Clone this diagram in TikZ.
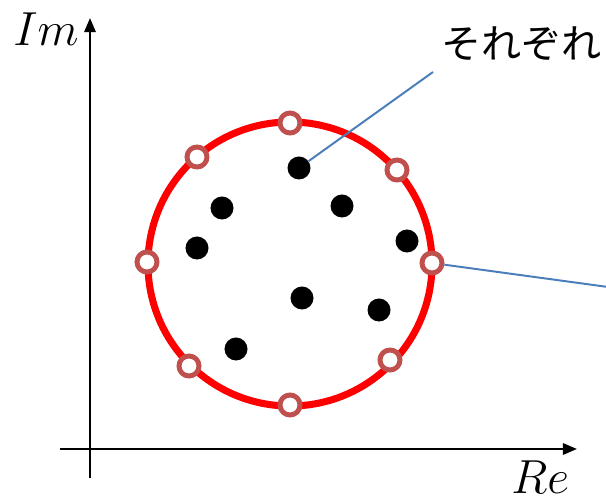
\RequirePackage{fix-cm}
\documentclass[tikz,border=0pt]{standalone}
\usepackage{fontspec}
\newfontfamily\jafont{Noto Sans CJK JP}
\usetikzlibrary{arrows.meta,positioning}
\definecolor{ringred}{HTML}{FF0000}
\definecolor{markred}{HTML}{C0504D}
\definecolor{leadblue}{HTML}{4A7EBB}

\begin{document}
\begin{tikzpicture}[x=0.025cm,y=-0.025cm,
    axis/.style={line width=1.6pt,-{Triangle[length=10pt,width=8pt]}},
    root/.style={circle,draw=markred,fill=white,line width=3.5pt,minimum size=0.5cm,inner sep=0pt},
    pole/.style={circle,fill=black,minimum size=0.575cm,inner sep=0pt},
    lead/.style={draw=leadblue,line width=1.4pt}]
    \clip (0,0) rectangle (606,498);

    % Axes
    \coordinate (ybot) at (90,478);
    \coordinate (ytop) at (90,18);
    \coordinate (xleft) at (60,449);
    \coordinate (xright) at (577,449);
    \draw[axis] (ybot) -- (ytop);
    \draw[axis] (xleft) -- (xright);
    \node[anchor=base west,font=\fontsize{34}{40}\selectfont,inner sep=0pt] (imlab) at (13,46) {$Im$};
    \node[anchor=base west,font=\fontsize{34}{40}\selectfont,inner sep=0pt] (relab) at (511,493) {$Re$};

    % Ring
    \draw[ringred,line width=5pt] (290,264) circle [radius=3.55cm];

    % Points inside
    \foreach \n/\x/\y in {p1/299/168, p2/222/208, p3/342/206, p4/197/248,
                          p5/407/241, p6/302/298, p7/379/310, p8/236/349} {
        \node[pole] (\n) at (\x,\y) {};
    }

    % Points on the ring
    \foreach \n/\x/\y in {m1/290/123, m2/397/170, m3/432/263, m4/390/360,
                          m5/290/405, m6/189/366, m7/147/262, m8/197/157} {
        \node[root] (\n) at (\x,\y) {};
    }

    % Leaders
    \coordinate (lead1) at (433,72);
    \coordinate (lead2) at (630,290);
    \draw[lead] (p1) -- (lead1);
    \draw[lead] (m3) -- (lead2);
    \node[anchor=base west,font=\jafont\fontsize{28.5}{34}\selectfont,inner sep=0pt] (note) at (441,59) {それぞれ};
\end{tikzpicture}
\end{document}
